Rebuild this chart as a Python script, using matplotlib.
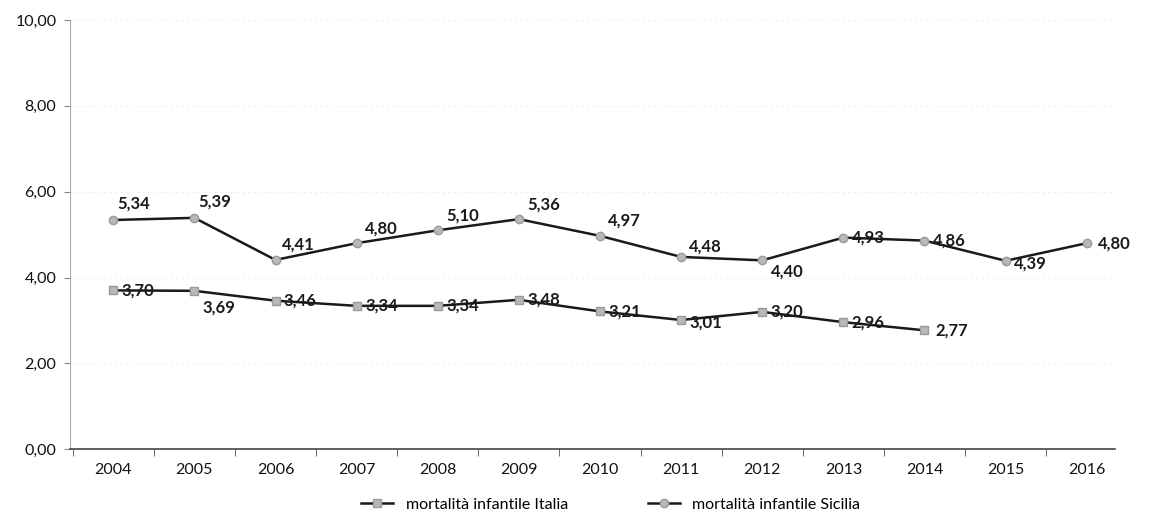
import matplotlib
matplotlib.use("Agg")
import matplotlib.pyplot as plt
from matplotlib.ticker import FixedLocator

plt.rcParams['font.family'] = ['Lato', 'DejaVu Sans']

years = [2004, 2005, 2006, 2007, 2008, 2009, 2010, 2011, 2012, 2013, 2014, 2015, 2016]
italia_years = years[:11]
italia = [3.70, 3.69, 3.46, 3.34, 3.34, 3.48, 3.21, 3.01, 3.20, 2.96, 2.77]
sicilia = [5.34, 5.39, 4.41, 4.80, 5.10, 5.36, 4.97, 4.48, 4.40, 4.93, 4.86, 4.39, 4.80]
y_ticks = [0, 2, 4, 6, 8, 10]

# label offsets in points (dx, dy, ha, va)
sic_off = [(3, 6, 'left', 'bottom'), (3, 6, 'left', 'bottom'), (5, 5, 'left', 'bottom'),
           (6, 5, 'left', 'bottom'), (6, 5, 'left', 'bottom'), (6, 5, 'left', 'bottom'),
           (6, 5, 'left', 'bottom'), (6, 2, 'left', 'bottom'), (6, -2, 'left', 'top'),
           (6, 0, 'left', 'center'), (6, 0, 'left', 'center'), (6, -2, 'left', 'center'),
           (8, 0, 'left', 'center')]
ita_off = [(6, 0, 'left', 'center'), (6, -6, 'left', 'top'), (6, 0, 'left', 'center'),
           (6, 0, 'left', 'center'), (6, 0, 'left', 'center'), (6, 0, 'left', 'center'),
           (6, 0, 'left', 'center'), (6, -2, 'left', 'center'), (6, 0, 'left', 'center'),
           (6, 0, 'left', 'center'), (8, 0, 'left', 'center')]

fig = plt.figure(figsize=(11.52, 5.26), dpi=100)
ax = fig.add_axes([0.061, 0.146, 0.907, 0.816])

ax.plot(italia_years, italia, color='#1a1a1a', lw=1.8, marker='s', ms=5.5,
        mfc='#b8b8b8', mec='#9a9a9a', label='mortalità infantile Italia', zorder=3)
ax.plot(years, sicilia, color='#1a1a1a', lw=1.8, marker='o', ms=6,
        mfc='#b8b8b8', mec='#9a9a9a', label='mortalità infantile Sicilia', zorder=3)

def fmt(v):
    return f"{v:.2f}".replace('.', ',')

for x, v, (dx, dy, ha, va) in zip(years, sicilia, sic_off):
    ax.annotate(fmt(v), (x, v), xytext=(dx, dy), textcoords='offset points',
                ha=ha, va=va, fontsize=12, fontweight='bold', color='#1a1a1a')
for x, v, (dx, dy, ha, va) in zip(italia_years, italia, ita_off):
    ax.annotate(fmt(v), (x, v), xytext=(dx, dy), textcoords='offset points',
                ha=ha, va=va, fontsize=12, fontweight='bold', color='#1a1a1a')

ax.set_xlim(2003.47, 2016.35)
ax.set_ylim(0, 10)
ax.set_yticks(y_ticks)
ax.set_yticklabels([fmt(v) for v in y_ticks], fontsize=11.5, color='#111111')
ax.set_xticks(years)
ax.set_xticklabels([str(y) for y in years], fontsize=11.5, color='#111111')
ax.tick_params(axis='x', which='major', length=0, pad=10)
ax.xaxis.set_minor_locator(FixedLocator([y + 0.5 for y in years[:-1]] + [2003.5]))
ax.tick_params(axis='x', which='minor', length=5, direction='out', color='#555555')
ax.tick_params(axis='y', length=4, direction='out', color='#888888', pad=6)

for s in ['top', 'right']:
    ax.spines[s].set_visible(False)
ax.spines['left'].set_color('#aaaaaa')
ax.spines['bottom'].set_color('#444444')
ax.spines['bottom'].set_linewidth(1.2)
ax.yaxis.grid(True, color='#eeeeee', lw=0.8, linestyle=(0, (2, 3)))
ax.set_axisbelow(True)

fig.legend(loc='lower center', bbox_to_anchor=(0.53, 0.0), ncol=2, frameon=False,
           fontsize=11.5, handlelength=2.0, columnspacing=5)

fig.savefig('out.png', dpi=100)
